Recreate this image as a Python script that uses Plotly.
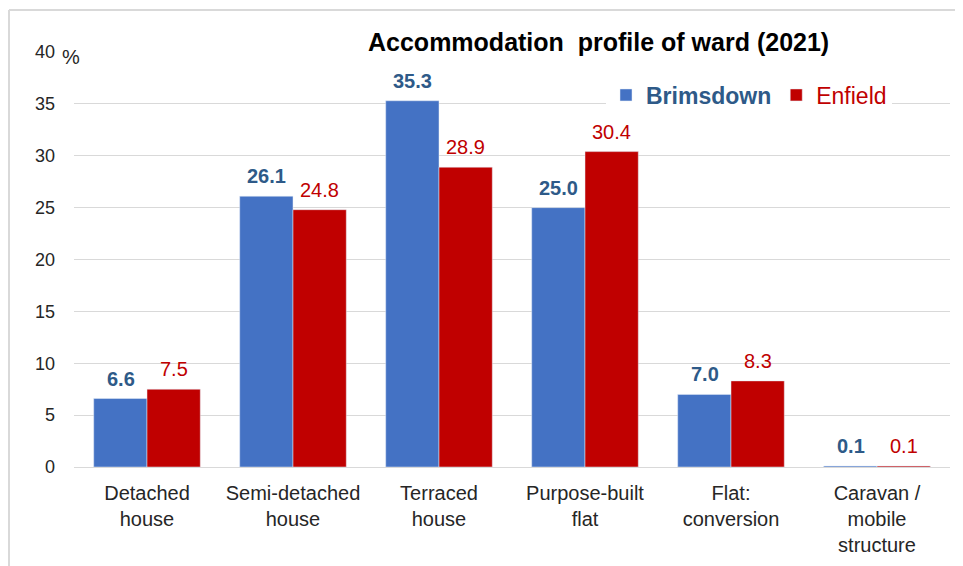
import plotly.graph_objects as go

categories = ["Detached<br>house", "Semi-detached<br>house", "Terraced<br>house",
              "Purpose-built<br>flat", "Flat:<br>conversion", "Caravan /<br>mobile<br>structure"]
brimsdown = [6.6, 26.1, 35.3, 25.0, 7.0, 0.1]
enfield = [7.5, 24.8, 28.9, 30.4, 8.3, 0.1]
y_ticks = [0, 5, 10, 15, 20, 25, 30, 35, 40]

BLUE = "#4472C4"
RED = "#C00000"
DBLUE = "#2E5A88"
FONT = "Liberation Sans, Arial, sans-serif"

# page body has an 8px margin, so the figure is drawn offset by (8, 8)
W, H = 955, 558
L, R, T, B = 66, 13, 44, 99
PW, PH = W - L - R, H - T - B  # 876 x 415


def px(xs):  # screen x -> paper x
    return (xs - 8 - L) / PW


def py(ys):  # screen y -> paper y
    return (T + PH - (ys - 8)) / PH


fig = go.Figure()
fig.add_trace(go.Bar(
    x=categories, y=brimsdown,
    name="<b><span style='color:%s'>Brimsdown</span></b>" % DBLUE,
    marker_color=BLUE,
))
fig.add_trace(go.Bar(
    x=categories, y=enfield,
    name="<span style='color:%s'>Enfield</span>" % RED,
    marker_color=RED,
))

# data labels placed above each bar
bar_offset = 26.5
for cat, v in zip(categories, brimsdown):
    fig.add_annotation(x=cat, y=v, xref="x", yref="y", text="<b>%.1f</b>" % v,
                       xshift=-bar_offset, yshift=7, yanchor="bottom", showarrow=False,
                       font=dict(family=FONT, size=20, color=DBLUE))
for cat, v in zip(categories, enfield):
    fig.add_annotation(x=cat, y=v, xref="x", yref="y", text="%.1f" % v,
                       xshift=bar_offset, yshift=7, yanchor="bottom", showarrow=False,
                       font=dict(family=FONT, size=20, color=RED))

fig.update_layout(
    width=W, height=H,
    margin=dict(l=L, r=R, t=T, b=B),
    paper_bgcolor="white", plot_bgcolor="white",
    barmode="group", bargap=0.27, bargroupgap=0,
    font=dict(family=FONT, size=19, color="#262626"),
    showlegend=True,
    legend=dict(orientation="h", x=px(892), xanchor="right", y=py(95),
                yanchor="middle", bgcolor="white", font=dict(family=FONT, size=23),
                itemwidth=30, traceorder="normal"),
    xaxis=dict(showgrid=False, showline=False, ticks="", automargin=False,
               ticklabelstandoff=12, tickfont=dict(size=20, color="#262626")),
    yaxis=dict(range=[0, 40], tickvals=y_ticks, ticktext=[str(v) for v in y_ticks],
               showgrid=True, gridcolor="#D9D9D9", gridwidth=1.3, zeroline=True,
               zerolinecolor="#D9D9D9", zerolinewidth=1.3, showline=False, ticks="",
               automargin=False, ticklabelstandoff=18,
               tickfont=dict(size=18, color="#262626")),
)

fig.add_annotation(text="<b>Accommodation  profile of ward (2021)</b>",
                   xref="paper", yref="paper", x=px(598), y=py(42),
                   yanchor="middle", xanchor="center", showarrow=False, bgcolor="white",
                   font=dict(family=FONT, size=25, color="black"))
fig.add_annotation(text="%", xref="paper", yref="paper", x=px(60), y=1.0,
                   xanchor="left", yanchor="middle", yshift=-5, showarrow=False,
                   font=dict(family=FONT, size=20, color="#262626"))

# outer chart frame
fig.add_shape(type="line", xref="paper", yref="paper", x0=px(9), x1=px(9),
              y0=py(10), y1=-0.4, line=dict(color="#D9D9D9", width=2))
fig.add_shape(type="line", xref="paper", yref="paper", x0=px(9), x1=1.05,
              y0=py(10), y1=py(10), line=dict(color="#D9D9D9", width=2))

fig.write_html("out.html")
